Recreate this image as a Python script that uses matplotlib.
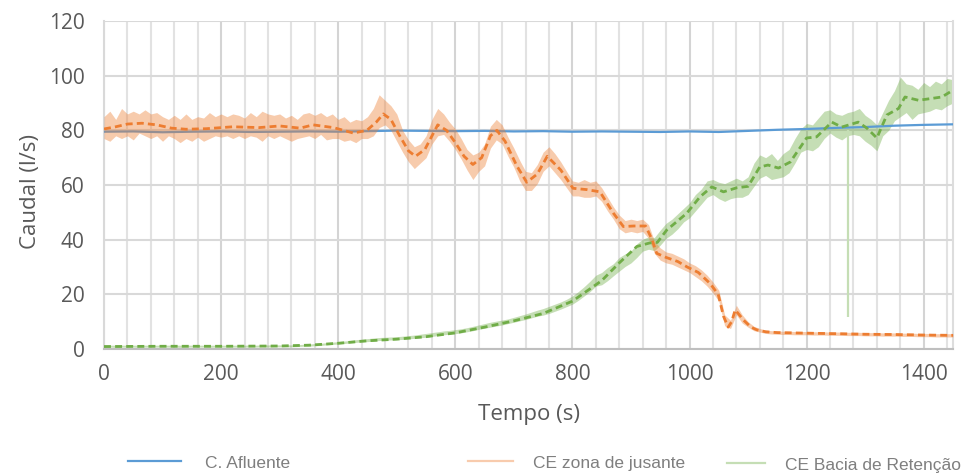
import matplotlib
matplotlib.use("Agg")
import matplotlib.pyplot as plt
from matplotlib.lines import Line2D

# Caudal afluente (medido), amostrado a cada 50 s
blue_t = list(range(0, 1451, 50))
blue_v = [79.5, 79.6, 79.3, 79.5, 79.6, 79.4, 79.5, 79.6, 79.5, 79.7,
          79.9, 79.8, 79.7, 79.8, 79.6, 79.7, 79.5, 79.6, 79.5, 79.4,
          79.6, 79.4, 79.8, 80.2, 80.5, 80.9, 81.2, 81.7, 82.0, 82.2]

# envelopes of the noisy raw signals, read every 10 s
band_t = list(range(0, 1451, 10))
orange_hi = [85, 87, 84, 88, 86, 87, 86, 87.5, 86, 86.5,
             85, 84, 85.5, 84, 86, 84, 85, 84.5, 86.5, 85,
             86, 85, 86, 85.5, 84.5, 86.5, 85, 87, 86, 85.5,
             86, 84.5, 85.5, 84, 86, 86.5, 85.5, 86.5, 85, 86,
             84, 85, 83, 84, 83.5, 85, 88, 93, 91, 89,
             86, 80, 76.5, 74, 75, 78, 84, 88, 86, 83,
             80.5, 77, 73, 71, 72, 75, 81.5, 84, 82, 77.5,
             73.5, 69, 65, 64.5, 67.5, 72, 74, 71.5, 68.5, 65,
             61.5, 61, 62, 61, 61.5, 59, 55.5, 52, 49, 47,
             47.5, 47, 47.5, 45.5, 39.5, 37, 35.5, 35, 34, 33,
             31.5, 30.5, 29, 27, 24.5, 21.5, 12.5, 10.5, 16, 12.5,
             10, 8.3, 7.5, 6.9, 6.7, 6.6, 6.5, 6.5, 6.4, 6.4,
             6.4, 6.3, 6.3, 6.3, 6.2, 6.2, 6.2, 6.1, 6.1, 6.1,
             6.0, 6.0, 6.0, 5.9, 5.9, 5.9, 5.8, 5.8, 5.8, 5.7,
             5.7, 5.7, 5.6, 5.6, 5.6, 5.6]
orange_lo = [77, 76, 78, 77, 78, 76.5, 79, 78, 77, 78,
             76, 78, 77, 75.5, 77, 76, 77.5, 76, 77, 78,
             77.5, 78, 77, 78, 77, 78, 77.5, 76, 78, 77,
             78, 77, 76, 77, 77.5, 78, 77, 78.5, 76.5, 77,
             77, 76, 76.5, 75.5, 77, 77, 78, 81, 82, 80,
             76, 72, 68.5, 66, 68, 70, 75, 78, 78.5, 76,
             73, 69.5, 65.5, 62, 65, 67, 73.5, 76.5, 75, 70.5,
             66.5, 61.5, 58, 58, 60.5, 65, 67, 64.5, 62, 59,
             56, 56, 55.5, 55.5, 56, 54, 50.5, 47.5, 44, 42.5,
             43, 42.5, 43, 40.5, 35, 32.5, 31.5, 31, 30, 29,
             28, 26.5, 25, 23, 20.5, 17.5, 8.5, 7.5, 12.5, 9.5,
             8, 6.7, 6.2, 5.7, 5.5, 5.4, 5.3, 5.3, 5.2, 5.2,
             5.2, 5.1, 5.1, 5.1, 5.0, 5.0, 5.0, 4.9, 4.9, 4.9,
             4.8, 4.8, 4.8, 4.7, 4.7, 4.7, 4.6, 4.6, 4.6, 4.5,
             4.5, 4.5, 4.4, 4.4, 4.4, 4.4]
green_hi = [1.4, 1.4, 1.4, 1.4, 1.4, 1.4, 1.4, 1.4, 1.4, 1.4,
            1.4, 1.4, 1.4, 1.4, 1.4, 1.4, 1.4, 1.4, 1.4, 1.4,
            1.4, 1.4, 1.4, 1.4, 1.4, 1.5, 1.4, 1.5, 1.5, 1.5,
            1.5, 1.5, 1.5, 1.6, 1.7, 1.8, 2.0, 2.1, 2.3, 2.5,
            2.7, 2.9, 3.1, 3.4, 3.6, 3.8, 4.0, 4.2, 4.3, 4.4,
            4.5, 4.7, 4.9, 5.1, 5.4, 5.7, 6.0, 6.3, 6.6, 6.8,
            7.1, 7.4, 7.8, 8.3, 8.8, 9.3, 9.8, 10.2, 10.6, 11.0,
            11.6, 12.2, 12.8, 13.5, 14.2, 14.8, 15.6, 16.4, 17.2, 18.2,
            19.4, 21.0, 22.8, 24.8, 27.0, 28.0, 29.8, 31.2, 33.5, 34.8,
            35.8, 38.5, 40.2, 41.0, 40.8, 43.5, 46.0, 47.5, 49.5, 51.5,
            53.5, 56.5, 58.5, 61.5, 62.0, 61.0, 60.5, 61.5, 62.5, 61.5,
            63.0, 68.0, 71.0, 70.0, 71.5, 69.0, 71.5, 73.0, 77.0, 80.5,
            82.5, 82.0, 84.5, 87.0, 87.5, 86.0, 85.5, 86.5, 87.0, 88.0,
            85.5, 84.0, 82.0, 86.5, 91.0, 94.5, 99.5, 97.0, 96.5, 95.0,
            97.5, 96.0, 98.0, 97.0, 99.0, 98.5]
green_lo = [0.7, 0.7, 0.6, 0.7, 0.7, 0.7, 0.6, 0.7, 0.7, 0.7,
            0.7, 0.7, 0.7, 0.6, 0.7, 0.7, 0.7, 0.7, 0.6, 0.7,
            0.7, 0.7, 0.7, 0.7, 0.7, 0.7, 0.7, 0.8, 0.7, 0.8,
            0.8, 0.8, 0.8, 0.9, 1.0, 1.0, 1.2, 1.3, 1.5, 1.7,
            1.8, 2.0, 2.2, 2.4, 2.6, 2.7, 2.9, 3.1, 3.2, 3.3,
            3.4, 3.5, 3.7, 3.9, 4.1, 4.3, 4.6, 4.9, 5.2, 5.4,
            5.6, 5.9, 6.3, 6.7, 7.2, 7.6, 8.0, 8.4, 8.8, 9.3,
            9.8, 10.3, 10.8, 11.4, 12.0, 12.4, 13.0, 13.8, 14.6, 15.5,
            16.4, 17.8, 19.4, 21.0, 23.0, 23.5, 25.0, 26.8, 28.5, 30.2,
            31.5, 33.5, 35.8, 36.5, 36.0, 38.0, 40.5, 42.0, 44.0, 46.5,
            48.0, 50.5, 53.0, 55.5, 56.5, 55.0, 54.0, 55.0, 55.5, 55.5,
            56.5, 59.5, 62.5, 63.5, 62.0, 62.5, 63.0, 64.5, 68.0, 72.0,
            73.0, 72.5, 74.0, 77.0, 79.0, 77.5, 76.5, 78.0, 78.5, 78.0,
            76.0, 74.5, 72.5, 78.0, 80.0, 83.5, 85.0, 86.5, 84.0, 86.0,
            86.5, 87.0, 88.0, 87.5, 89.0, 90.0]

# single dropout in the retention basin signal
spike_t = 1271
spike_lo = 11.8
spike_hi = 80.0

# moving averages (dashed)
orange_avg_t = [0, 20, 40, 65, 90, 115, 140, 175, 220, 265, 300,
                335, 357, 392, 426, 449, 465, 477, 490, 505, 520,
                532, 548, 570, 585, 600, 615, 630, 645, 660, 671,
                685, 705, 722, 740, 757, 780, 801, 825, 847, 870,
                887, 905, 925, 935, 944, 960, 980, 996, 1015, 1035,
                1049, 1058, 1066, 1072, 1078, 1085, 1092, 1105, 1115, 1130,
                1150, 1200, 1250, 1300, 1350, 1400, 1450]
orange_avg_v = [80.5, 81.3, 82.3, 82.6, 82, 80.8, 80.4, 80.6, 81.3, 81, 81.6,
                80.8, 82, 81, 79, 80, 83, 86, 84, 78, 72.5,
                70.5, 73, 82, 80, 75.5, 70.5, 67.5, 70, 78, 80,
                76, 67, 61, 64, 70.5, 65.5, 58.8, 58.3, 57.5, 49.7,
                44.8, 45, 45, 40.5, 35, 33.5, 32, 30, 28, 24,
                20, 12, 8, 10, 14.3, 12.5, 10.6, 8, 7, 6.3,
                6, 5.8, 5.6, 5.4, 5.3, 5.1, 5.0]
green_avg_t = [0, 100, 200, 300, 350, 400, 450, 500, 550, 600,
               650, 700, 750, 800, 850, 880, 910, 932, 945, 961,
               995, 1018, 1038, 1058, 1081, 1100, 1120, 1134, 1152, 1172,
               1200, 1217, 1243, 1260, 1288, 1303, 1320, 1337, 1357, 1368,
               1391, 1408, 1431, 1450]
green_avg_v = [0.9, 1.0, 1.0, 1.1, 1.4, 2.1, 3.0, 3.6, 4.5, 5.9,
               8.0, 10.3, 13.0, 17.5, 25.0, 31.5, 37.5, 38.8, 39.0, 43.5,
               49.6, 55.7, 59.3, 57.5, 59.0, 59.5, 66.6, 67.3, 66.2, 68.4,
               77.2, 77.6, 83.0, 81.2, 83.0, 80.8, 77.2, 85.6, 88.0, 92.2,
               91.0, 91.5, 92.2, 94.7]

series_names = ["C. Afluente", "CE zona de jusante", "CE Bacia de Retenção"]

BLUE = "#5B9BD5"
ORANGE = "#ED7D31"
GREEN = "#70AD47"
ORANGE_LIGHT = "#F8CBAD"
GREEN_LIGHT = "#C5DEB5"
TEXT = "#595959"


def draw(ax):
    ax.fill_between(band_t, green_lo, green_hi, color=GREEN, alpha=0.4, lw=0, zorder=2)
    ax.vlines(spike_t, spike_lo, spike_hi, color=GREEN_LIGHT, lw=1.6, zorder=2)
    ax.plot(blue_t, blue_v, color=BLUE, lw=1.6, zorder=3)
    ax.fill_between(band_t, orange_lo, orange_hi, color=ORANGE, alpha=0.4, lw=0, zorder=4)
    ax.plot(orange_avg_t, orange_avg_v, color=ORANGE, lw=2, ls=(0, (2.5, 1.5)), zorder=5)
    ax.plot(green_avg_t, green_avg_v, color=GREEN, lw=2, ls=(0, (2.5, 1.5)), zorder=5)


def style(ax):
    ax.set_xlim(0, 1450)
    ax.set_ylim(0, 120)
    ax.set_xticks(range(0, 1401, 200))
    ax.set_xticks(range(0, 1451, 40), minor=True)
    ax.set_yticks(range(0, 121, 20))
    ax.set_axisbelow(True)
    ax.grid(axis="y", which="major", color="#D9D9D9", lw=1.5)
    ax.grid(axis="x", which="major", color="#D4D4D4", lw=1.5)
    ax.grid(axis="x", which="minor", color="#E2E2E2", lw=1.5)
    ax.tick_params(which="both", length=0, labelsize=15, labelcolor=TEXT)
    ax.tick_params(axis="x", pad=11)
    ax.tick_params(axis="y", pad=14)
    ax.spines["top"].set_visible(False)
    ax.spines["left"].set_color("#D9D9D9")
    ax.spines["right"].set_color("#DDDDDD")
    ax.spines["bottom"].set_color("#BFBFBF")
    for side in ["left", "right", "bottom"]:
        ax.spines[side].set_linewidth(1.5)

    ax.set_xlabel("Tempo (s)", fontsize=16, color=TEXT, va="center")
    ax.xaxis.set_label_coords(0.5, -0.201)
    ax.set_ylabel("Caudal (l/s)", fontsize=16, color=TEXT, va="center")
    ax.yaxis.set_label_coords(-0.087, 0.48)


def legends(fig):
    colors = [BLUE, ORANGE_LIGHT, GREEN_LIGHT]
    xs = [128, 468, 727]
    lengths = [3.05, 2.6, 2.2]
    pads = [1.38, 1.15, 1.15]
    ys = [463, 463, 465]
    for name, c, x, hl, tp, y in zip(series_names, colors, xs, lengths, pads, ys):
        h = Line2D([], [], color=c, lw=1.6)
        fig.legend([h], [name], loc="center left", bbox_to_anchor=(x / 977, 1 - y / 476),
                   frameon=False, borderpad=0, borderaxespad=0, handlelength=hl,
                   handletextpad=tp, prop={"family": "Liberation Sans", "size": 12.5},
                   labelcolor="#7F7F7F")


def main():
    plt.rcParams["font.family"] = ["Open Sans", "DejaVu Sans"]
    fig = plt.figure(figsize=(9.77, 4.76), dpi=100)
    ax = fig.add_axes([104 / 977, 1 - 349 / 476, (953 - 104) / 977, (349 - 21) / 476])
    draw(ax)
    style(ax)
    legends(fig)
    fig.savefig("out.png", dpi=100)


if __name__ == "__main__":
    main()
